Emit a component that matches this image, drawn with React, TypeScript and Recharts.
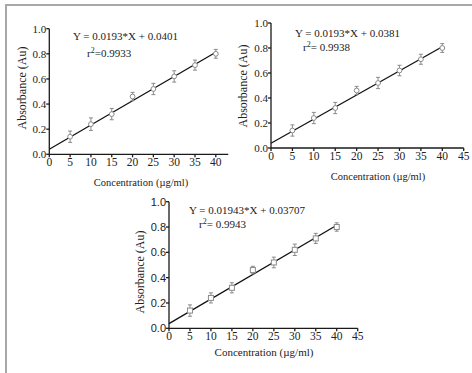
import React from 'react';
import { ComposedChart, Scatter, Line, XAxis, YAxis, ErrorBar } from 'recharts';

const concentrations = [5, 10, 15, 20, 25, 30, 35, 40];
const absorbance1 = [0.14, 0.24, 0.32, 0.46, 0.52, 0.62, 0.71, 0.8];
const errors1 = [0.045, 0.05, 0.045, 0.033, 0.045, 0.045, 0.04, 0.035];
const absorbance2 = [0.14, 0.24, 0.32, 0.46, 0.52, 0.62, 0.71, 0.8];
const errors2 = [0.045, 0.045, 0.045, 0.033, 0.045, 0.042, 0.04, 0.035];
const absorbance3 = [0.14, 0.24, 0.32, 0.46, 0.52, 0.62, 0.71, 0.8];
const errors3 = [0.045, 0.04, 0.04, 0.03, 0.042, 0.045, 0.04, 0.033];

const fitX = [0, 40];
const fitY1 = [0.0401, 0.8121];
const fitY2 = [0.0381, 0.8101];
const fitY3 = [0.03707, 0.81427];

const yTicks = [0, 0.2, 0.4, 0.6, 0.8, 1.0];
const xTicks1 = [0, 5, 10, 15, 20, 25, 30, 35, 40];
const xTicks2 = [0, 5, 10, 15, 20, 25, 30, 35, 40, 45];

const SERIF = '"Liberation Serif", "Times New Roman", serif';
const SANS = '"Liberation Sans", Arial, sans-serif';
const AXIS = '#1a1a1a';
const MARK = '#8a8a8a';
const YW = 30;
const XH = 30;

const build = (xs: number[], ys: number[], es: number[]) =>
  xs.map((x, i) => ({ x, y: ys[i], err: es[i] }));
const buildFit = (xs: number[], ys: number[]) => xs.map((x, i) => ({ x, y: ys[i] }));

type PanelProps = {
  left: number;
  top: number;
  width: number;
  height: number;
  plot: { left: number; top: number; right: number; bottom: number };
  data: { x: number; y: number; err: number }[];
  fit: { x: number; y: number }[];
  xMax: number;
  xTicks: number[];
  yFont: string;
  yFontSize: number;
  square?: boolean;
};

const Panel = (p: PanelProps) => {
  const margin = {
    top: p.plot.top - p.top,
    left: p.plot.left - p.left - YW,
    right: p.left + p.width - p.plot.right,
    bottom: p.top + p.height - p.plot.bottom - XH,
  };
  return (
    <div style={{ position: 'absolute', left: p.left, top: p.top }}>
      <ComposedChart width={p.width} height={p.height} margin={margin}>
        <XAxis
          type="number"
          dataKey="x"
          domain={[0, p.xMax]}
          ticks={p.xTicks}
          interval={0}
          height={XH}
          stroke={AXIS}
          strokeWidth={1.3}
          tickSize={3}
          tickMargin={1}
          tick={{ fill: '#222', fontSize: 11.5, fontFamily: SERIF }}
        />
        <YAxis
          type="number"
          dataKey="y"
          domain={[0, 1]}
          ticks={yTicks}
          interval={0}
          width={YW}
          stroke={AXIS}
          strokeWidth={1.3}
          tickSize={3}
          tickMargin={0}
          tickFormatter={(v: number) => v.toFixed(1)}
          tick={{ fill: '#222', fontSize: p.yFontSize, fontFamily: p.yFont }}
        />
        <Line
          data={p.fit}
          dataKey="y"
          type="linear"
          stroke="#111"
          strokeWidth={1.3}
          dot={false}
          activeDot={false}
          isAnimationActive={false}
        />
        <Scatter
          data={p.data}
          dataKey="y"
          isAnimationActive={false}
          shape={(s: any) =>
            p.square ? (
              <rect x={s.cx - 2.5} y={s.cy - 2.5} width={5} height={5} fill="#fff" stroke={MARK} strokeWidth={1} />
            ) : (
              <circle cx={s.cx} cy={s.cy} r={2.4} fill="#fff" stroke={MARK} strokeWidth={1} />
            )
          }
        >
          <ErrorBar dataKey="err" direction="y" width={2} stroke={MARK} strokeWidth={1} />
        </Scatter>
      </ComposedChart>
    </div>
  );
};

export default function App() {
  const d1 = build(concentrations, absorbance1, errors1);
  const d2 = build(concentrations, absorbance2, errors2);
  const d3 = build(concentrations, absorbance3, errors3);
  return (
    <div
      style={{
        position: 'absolute',
        left: 0,
        top: 0,
        width: 472,
        height: 373,
        overflow: 'hidden',
        background: '#fff',
      }}
    >
      <div
        style={{
          position: 'absolute',
          left: 5,
          top: 4,
          width: 500,
          height: 400,
          borderLeft: '2px solid #a8a8a8',
          borderTop: '2px solid #a8a8a8',
        }}
      />
      <Panel
        left={0}
        top={0}
        width={240}
        height={200}
        plot={{ left: 49.3, top: 28.7, right: 228.3, bottom: 154.3 }}
        data={d1}
        fit={buildFit(fitX, fitY1)}
        xMax={43}
        xTicks={xTicks1}
        yFont={SERIF}
        yFontSize={11}
      />
      <Panel
        left={236}
        top={0}
        width={236}
        height={200}
        plot={{ left: 271, top: 23, right: 463.7, bottom: 148 }}
        data={d2}
        fit={buildFit(fitX, fitY2)}
        xMax={45}
        xTicks={xTicks2}
        yFont={SERIF}
        yFontSize={11}
      />
      <Panel
        left={120}
        top={185}
        width={250}
        height={188}
        plot={{ left: 169, top: 201.7, right: 357.7, bottom: 328.3 }}
        data={d3}
        fit={buildFit(fitX, fitY3)}
        xMax={45}
        xTicks={xTicks2}
        yFont={SANS}
        yFontSize={11}
        square
      />
      <svg
        width={472}
        height={373}
        style={{ position: 'absolute', left: 0, top: 0, pointerEvents: 'none' }}
        fontFamily={SERIF}
        fill="#222"
      >
        <text x={73} y={40} fontSize={11}>Y = 0.0193*X + 0.0401</text>
        <text x={87} y={57} fontSize={11}>
          r<tspan dy={-4} fontSize={8}>2</tspan>
          <tspan dy={4}>=0.9933</tspan>
        </text>
        <text x={295} y={37} fontSize={11}>Y = 0.0193*X + 0.0381</text>
        <text x={303} y={51} fontSize={11}>
          r<tspan dy={-4} fontSize={8}>2</tspan>
          <tspan dy={4}>= 0.9938</tspan>
        </text>
        <text x={189} y={214} fontSize={11}>Y = 0.01943*X + 0.03707</text>
        <text x={199} y={228} fontSize={11}>
          r<tspan dy={-4} fontSize={8}>2</tspan>
          <tspan dy={4}>= 0.9943</tspan>
        </text>

        <text x={141} y={185.5} fontSize={10.5} textAnchor="middle">Concentration (µg/ml)</text>
        <text x={378} y={179.5} fontSize={10.5} textAnchor="middle">Concentration (µg/ml)</text>
        <text x={264} y={356} fontSize={11} textAnchor="middle">Concentration (µg/ml)</text>

        <text x={26} y={88} fontSize={12} textAnchor="middle" transform="rotate(-90 26 88)">Absorbance (Au)</text>
        <text x={247} y={86} fontSize={12} textAnchor="middle" transform="rotate(-90 247 86)">Absorbance (Au)</text>
        <text x={144} y={272} fontSize={12} textAnchor="middle" transform="rotate(-90 144 272)">Absorbance (Au)</text>
      </svg>
    </div>
  );
}
